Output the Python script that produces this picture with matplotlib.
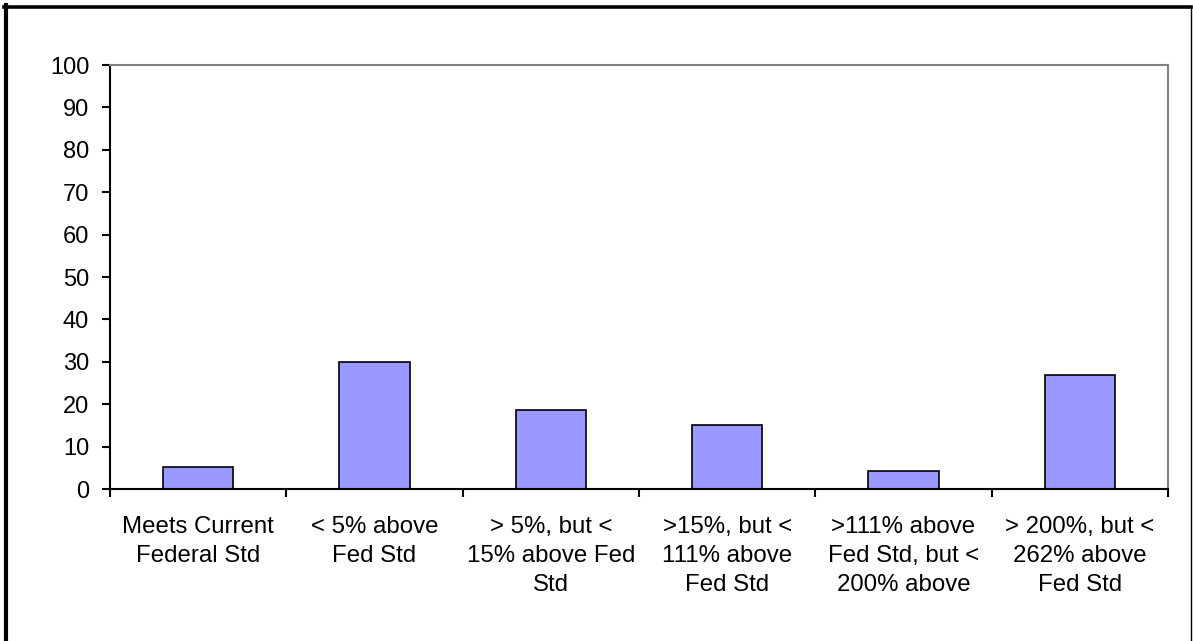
import matplotlib.pyplot as plt
from matplotlib.lines import Line2D
import numpy as np

plt.rcParams['font.family'] = ['Liberation Sans', 'DejaVu Sans']

# Share of units by how far they sit above the federal standard
categories = [
    'Meets Current\nFederal Std',
    '< 5% above\nFed Std',
    '> 5%, but <\n15% above Fed\nStd',
    '>15%, but <\n111% above\nFed Std',
    '>111% above\nFed Std, but <\n200% above',
    '> 200%, but <\n262% above\nFed Std',
]
values = [5.1, 30.0, 18.7, 15.0, 4.2, 26.8]
yticks = list(range(0, 101, 10))

fig = plt.figure(figsize=(11.93, 6.41), dpi=100)
ax = fig.add_axes([110 / 1193, 1 - 489 / 641, 1058 / 1193, 424 / 641])

x = np.arange(len(categories))
ax.bar(x, values, width=0.4, color='#9999FF', edgecolor='black', linewidth=1.2,
       zorder=3)

ax.set_xlim(-0.5, len(categories) - 0.5)
ax.set_ylim(0, 100)

# y axis
ax.set_yticks(yticks)
ax.tick_params(axis='y', which='major', direction='out', length=6, width=1.5,
               labelsize=17, pad=9, colors='black')

# x axis: boundary ticks, labels centred on minor ticks
ax.set_xticks(np.arange(-0.5, len(categories), 1.0))
ax.set_xticklabels([])
ax.tick_params(axis='x', which='major', direction='out', length=6, width=1.5)
ax.set_xticks(x, minor=True)
ax.set_xticklabels(categories, minor=True, fontsize=17.3, linespacing=1.4)
ax.tick_params(axis='x', which='minor', length=0, pad=19.5)

# plot area frame
ax.spines['left'].set_color('black')
ax.spines['left'].set_linewidth(1.5)
ax.spines['bottom'].set_color('black')
ax.spines['bottom'].set_linewidth(1.5)
ax.spines['bottom'].set_zorder(4)
ax.spines['top'].set_color('#808080')
ax.spines['top'].set_linewidth(1.5)
ax.spines['right'].set_color('#808080')
ax.spines['right'].set_linewidth(1.5)

# outer chart border
W, H = 1193, 641
fig.add_artist(Line2D([6 / W, 6 / W], [0, 1 - 5 / H], color='black',
                      linewidth=3.0, transform=fig.transFigure))
fig.add_artist(Line2D([4 / W, 1191 / W], [1 - 6.8 / H, 1 - 6.8 / H],
                      color='black', linewidth=2.6, transform=fig.transFigure))
fig.add_artist(Line2D([1190.5 / W, 1190.5 / W], [0, 1 - 6 / H], color='black',
                      linewidth=1.0, transform=fig.transFigure))

fig.savefig('out.png', dpi=100)
